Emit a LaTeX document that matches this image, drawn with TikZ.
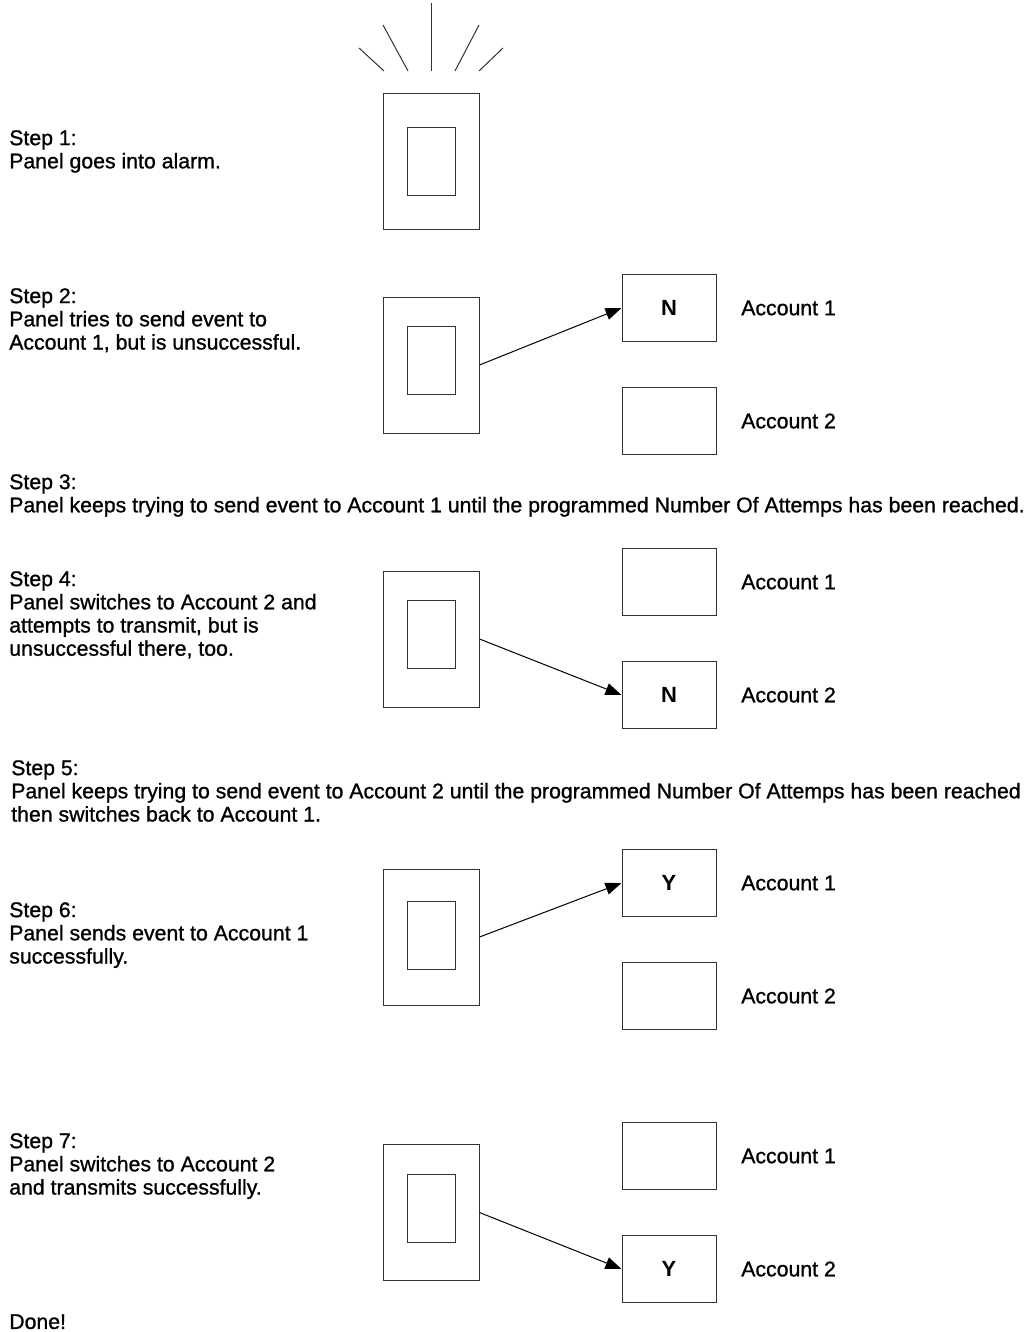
\documentclass[tikz,border=0pt]{standalone}
\usepackage{fontspec}
\setmainfont{Liberation Sans}
\newfontfamily\heavysans{Liberation Sans}[FakeBold=1.0]
\usetikzlibrary{arrows.meta}
\begin{document}
\begin{tikzpicture}[x=0.75pt,y=-0.75pt,
  every node/.style={font=\heavysans\fontsize{15.95pt}{17.4pt}\selectfont},
  outerpanel/.style={draw=black!80,line width=0.75pt,minimum width=72pt,minimum height=102pt,inner sep=0pt},
  innerpanel/.style={draw=black!80,line width=0.75pt,minimum width=36pt,minimum height=51pt,inner sep=0pt},
  acct/.style={draw=black!80,line width=0.75pt,minimum width=70.5pt,minimum height=50.25pt,inner sep=0pt,font=\fontsize{16.5pt}{17.4pt}\selectfont\bfseries},
  acctlabel/.style={anchor=west,inner sep=0pt},
  steptext/.style={anchor=north west,align=left,inner sep=0pt},
  conn/.style={draw=black,line width=0.75pt,-{Triangle[length=12pt,width=9pt]}},
  ray/.style={draw=black!80,line width=0.75pt}
]
\useasboundingbox (0,0) rectangle (1025,1332);

% Step 1
\node[steptext] (t1) at (9,130) {Step 1:\\Panel goes into alarm.};
\node[outerpanel] (p1) at (431,161) {};
\node[innerpanel] (p1i) at (431,161) {};
\coordinate (r0a) at (431,3);   \coordinate (r0b) at (431,71);
\coordinate (r1a) at (383,25);  \coordinate (r1b) at (408,71);
\coordinate (r2a) at (359,48);  \coordinate (r2b) at (384,71);
\coordinate (r3a) at (479,25);  \coordinate (r3b) at (455,71);
\coordinate (r4a) at (503,48);  \coordinate (r4b) at (479,71);
\draw[ray] (r0a) -- (r0b);
\draw[ray] (r1a) -- (r1b);
\draw[ray] (r2a) -- (r2b);
\draw[ray] (r3a) -- (r3b);
\draw[ray] (r4a) -- (r4b);

% Step 2
\node[steptext] (t2) at (9,288) {Step 2:\\Panel tries to send event to\\Account 1, but is unsuccessful.};
\node[outerpanel] (p2) at (431,365) {};
\node[innerpanel] (p2i) at (431,360) {};
\node[acct] (a21) at (669,308) {N};
\node[acct] (a22) at (669,421) {};
\node[acctlabel] (l21) at (741,308) {Account 1};
\node[acctlabel] (l22) at (741,421) {Account 2};
\draw[conn] (p2.east) -- (a21.west);

% Step 3
\node[steptext] (t3) at (9,474) {Step 3:\\Panel keeps trying to send event to Account 1 until the programmed Number Of Attemps has been reached.};

% Step 4
\node[steptext] (t4) at (9,571) {Step 4:\\Panel switches to Account 2 and\\attempts to transmit, but is\\unsuccessful there, too.};
\node[outerpanel] (p4) at (431,639) {};
\node[innerpanel] (p4i) at (431,634) {};
\node[acct] (a41) at (669,582) {};
\node[acct] (a42) at (669,695) {N};
\node[acctlabel] (l41) at (741,582) {Account 1};
\node[acctlabel] (l42) at (741,695) {Account 2};
\draw[conn] (p4.east) -- (a42.west);

% Step 5
\node[steptext] (t5) at (11,760) {Step 5:\\Panel keeps trying to send event to Account 2 until the programmed Number Of Attemps has been reached\\then switches back to Account 1.};

% Step 6
\node[steptext] (t6) at (9,902) {Step 6:\\Panel sends event to Account 1\\successfully.};
\node[outerpanel] (p6) at (431,937) {};
\node[innerpanel] (p6i) at (431,935) {};
\node[acct] (a61) at (669,883) {Y};
\node[acct] (a62) at (669,996) {};
\node[acctlabel] (l61) at (741,883) {Account 1};
\node[acctlabel] (l62) at (741,996) {Account 2};
\draw[conn] (p6.east) -- (a61.west);

% Step 7
\node[steptext] (t7) at (9,1133) {Step 7:\\Panel switches to Account 2\\and transmits successfully.};
\node[outerpanel] (p7) at (431,1212.5) {};
\node[innerpanel] (p7i) at (431,1208.5) {};
\node[acct] (a71) at (669,1156) {};
\node[acct] (a72) at (669,1269) {Y};
\node[acctlabel] (l71) at (741,1156) {Account 1};
\node[acctlabel] (l72) at (741,1269) {Account 2};
\draw[conn] (p7.east) -- (a72.west);

% Done
\node[steptext] (t8) at (9,1314) {Done!};
\end{tikzpicture}
\end{document}
